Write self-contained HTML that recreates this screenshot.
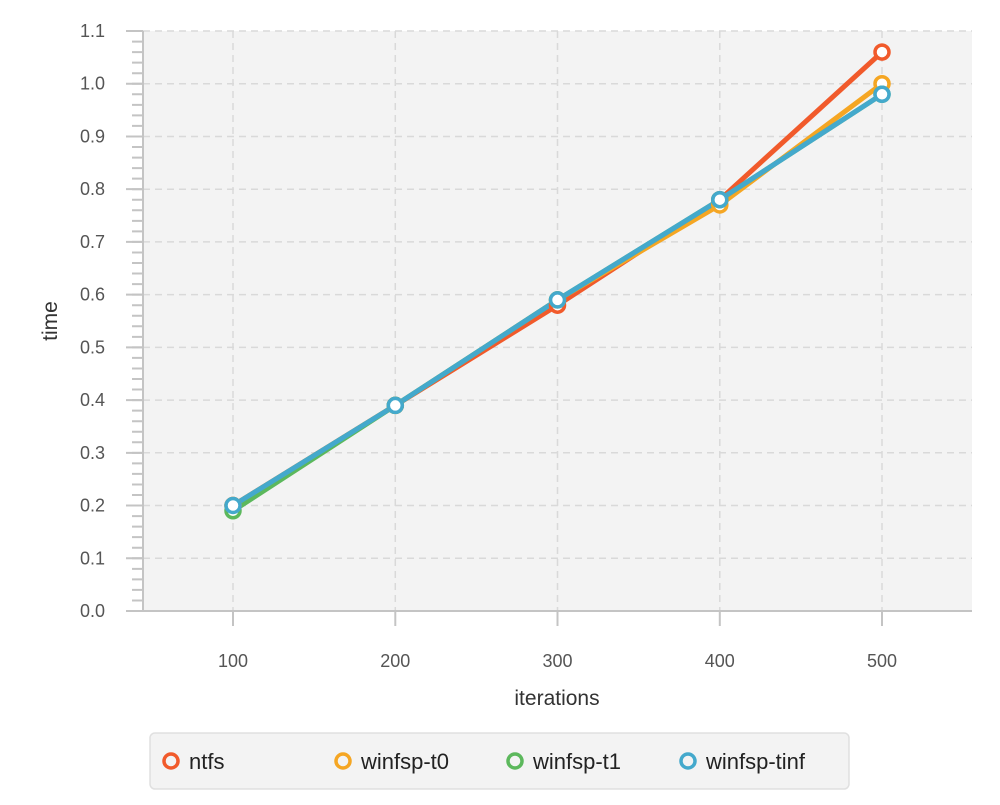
<!DOCTYPE html><html><head><style>body{margin:0;background:#fff}svg text{font-family:"Liberation Sans",sans-serif}</style></head><body>
<svg width="1000" height="800" xmlns="http://www.w3.org/2000/svg">
<rect x="143" y="31" width="829" height="580" fill="#f3f3f3"/>
<g stroke="#d9d9d9" stroke-width="1.5" stroke-dasharray="7,5">
<line x1="143" x2="972" y1="31" y2="31"/><line x1="143" x2="972" y1="83.7" y2="83.7"/><line x1="143" x2="972" y1="136.5" y2="136.5"/><line x1="143" x2="972" y1="189.2" y2="189.2"/><line x1="143" x2="972" y1="241.9" y2="241.9"/><line x1="143" x2="972" y1="294.6" y2="294.6"/><line x1="143" x2="972" y1="347.4" y2="347.4"/><line x1="143" x2="972" y1="400.1" y2="400.1"/><line x1="143" x2="972" y1="452.8" y2="452.8"/><line x1="143" x2="972" y1="505.5" y2="505.5"/><line x1="143" x2="972" y1="558.3" y2="558.3"/>
<line x1="233" x2="233" y1="31" y2="611"/><line x1="395.3" x2="395.3" y1="31" y2="611"/><line x1="557.5" x2="557.5" y1="31" y2="611"/><line x1="719.8" x2="719.8" y1="31" y2="611"/><line x1="882" x2="882" y1="31" y2="611"/>
</g>
<g stroke="#c4c4c4">
<line x1="137.5" x2="137.5" y1="612" y2="30" stroke-width="11" stroke-dasharray="2,8.545"/>
<line x1="134.5" x2="134.5" y1="612" y2="30" stroke-width="17" stroke-dasharray="2,50.727"/>
</g>
<g stroke="#c4c4c4" stroke-width="2">
<line x1="143" x2="143" y1="31" y2="612"/><line x1="126" x2="972" y1="611" y2="611"/>
<line x1="233" x2="233" y1="611" y2="626"/><line x1="395.3" x2="395.3" y1="611" y2="626"/><line x1="557.5" x2="557.5" y1="611" y2="626"/><line x1="719.8" x2="719.8" y1="611" y2="626"/><line x1="882" x2="882" y1="611" y2="626"/>
</g>
<g font-size="18" fill="#555" text-anchor="end">
<text x="105" y="37">1.1</text><text x="105" y="89.7">1.0</text><text x="105" y="142.5">0.9</text><text x="105" y="195.2">0.8</text><text x="105" y="247.9">0.7</text><text x="105" y="300.6">0.6</text><text x="105" y="353.4">0.5</text><text x="105" y="406.1">0.4</text><text x="105" y="458.8">0.3</text><text x="105" y="511.5">0.2</text><text x="105" y="564.3">0.1</text><text x="105" y="617">0.0</text>
</g>
<g font-size="18" fill="#555" text-anchor="middle">
<text x="233" y="667">100</text><text x="395.3" y="667">200</text><text x="557.5" y="667">300</text><text x="719.8" y="667">400</text><text x="882" y="667">500</text>
</g>
<text x="557" y="705" font-size="21" fill="#333" text-anchor="middle">iterations</text>
<text transform="translate(57,321) rotate(-90)" font-size="21" fill="#333" text-anchor="middle">time</text>
<g fill="none" stroke-width="5" stroke-linejoin="round">
<polyline stroke="#f15a2b" points="233,505.5 395.3,405.4 557.5,305.2 719.8,199.7 882,52.1"/>
<polyline stroke="#f5a623" points="233,505.5 395.3,405.4 557.5,299.9 719.8,205 882,83.7"/>
<polyline stroke="#5cb85c" points="233,510.8 395.3,405.4 557.5,299.9 719.8,199.7 882,94.3"/>
<polyline stroke="#44a9cc" points="233,505.5 395.3,405.4 557.5,299.9 719.8,199.7 882,94.3"/>
</g>
<g fill="#fff" stroke-width="3.5">
<g stroke="#f15a2b"><circle cx="233" cy="505.5" r="7"/><circle cx="395.3" cy="405.4" r="7"/><circle cx="557.5" cy="305.2" r="7"/><circle cx="719.8" cy="199.7" r="7"/><circle cx="882" cy="52.1" r="7"/></g>
<g stroke="#f5a623"><circle cx="233" cy="505.5" r="7"/><circle cx="395.3" cy="405.4" r="7"/><circle cx="557.5" cy="299.9" r="7"/><circle cx="719.8" cy="205" r="7"/><circle cx="882" cy="83.7" r="7"/></g>
<g stroke="#5cb85c"><circle cx="233" cy="510.8" r="7"/><circle cx="395.3" cy="405.4" r="7"/><circle cx="557.5" cy="299.9" r="7"/><circle cx="719.8" cy="199.7" r="7"/><circle cx="882" cy="94.3" r="7"/></g>
<g stroke="#44a9cc"><circle cx="233" cy="505.5" r="7"/><circle cx="395.3" cy="405.4" r="7"/><circle cx="557.5" cy="299.9" r="7"/><circle cx="719.8" cy="199.7" r="7"/><circle cx="882" cy="94.3" r="7"/></g>
</g>
<rect x="150" y="733" width="699" height="56" rx="5" fill="#f3f3f3" stroke="#e0e0e0" stroke-width="1.5"/>
<g fill="none" stroke-width="3.5">
<circle cx="171" cy="761" r="7" stroke="#f15a2b"/><circle cx="343" cy="761" r="7" stroke="#f5a623"/><circle cx="515" cy="761" r="7" stroke="#5cb85c"/><circle cx="688" cy="761" r="7" stroke="#44a9cc"/>
</g>
<g font-size="22" fill="#222"><text x="189" y="769">ntfs</text><text x="361" y="769">winfsp-t0</text><text x="533" y="769">winfsp-t1</text><text x="706" y="769">winfsp-tinf</text></g>
</svg></body></html>
